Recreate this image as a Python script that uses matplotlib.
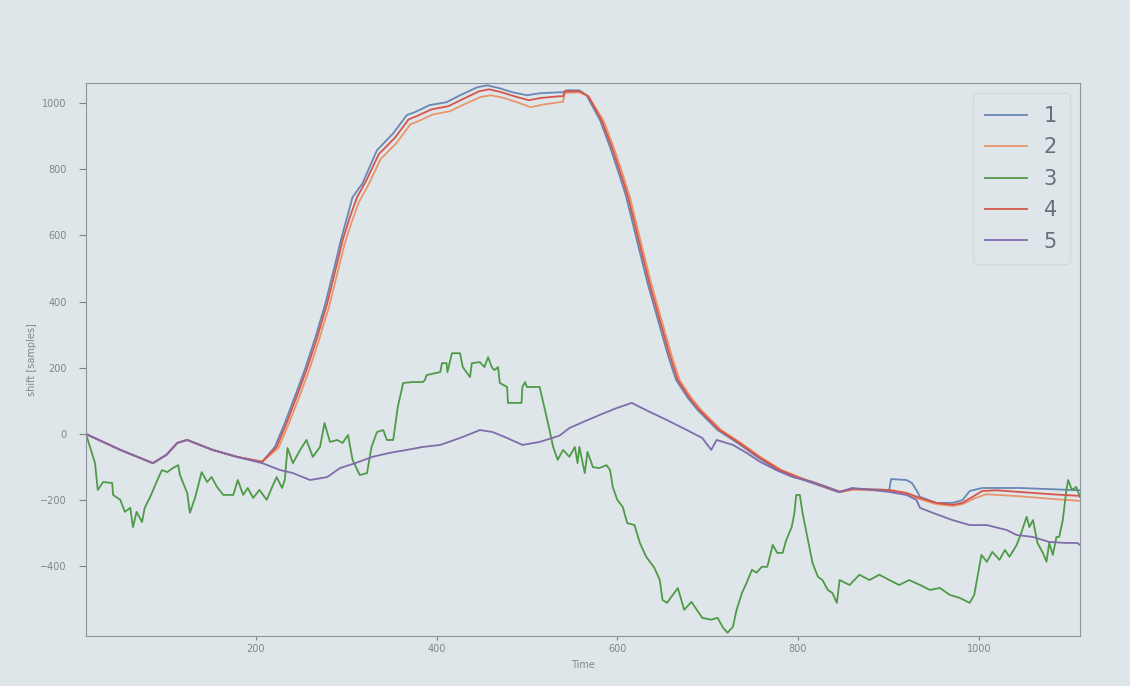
import matplotlib
matplotlib.use("Agg")
import matplotlib.pyplot as plt

# (time, shift) pairs
s1 = [(12, 0), (50, -48), (86, -88), (101, -63), (113, -27), (124, -18), (152, -48), (179, -69),
      (207, -84), (221, -39), (232, 33), (243, 112), (254, 193), (266, 293), (277, 395), (288, 516),
      (294, 585), (301, 655), (307, 715), (318, 757), (334, 857), (352, 908), (367, 963), (376, 972),
      (392, 993), (411, 1002), (426, 1023), (445, 1047), (456, 1053), (470, 1044), (484, 1032),
      (500, 1023), (514, 1029), (536, 1032), (540, 1032), (544, 1038), (558, 1038), (566, 1023),
      (573, 987), (581, 947), (592, 866), (603, 776), (610, 715), (623, 570), (634, 450), (645, 344),
      (656, 238), (665, 163), (678, 109), (689, 72), (711, 12), (733, -27), (756, -72), (778, -109),
      (800, -133), (822, -154), (844, -175), (860, -166), (901, -169), (903, -136), (920, -139),
      (926, -148), (931, -169), (935, -190), (953, -208), (971, -208), (982, -200), (990, -172),
      (1004, -163), (1045, -163), (1112, -170)]

s2 = [(12, 0), (50, -48), (86, -88), (101, -63), (113, -27), (124, -18), (152, -48), (179, -69),
      (207, -84), (225, -42), (236, 28), (247, 105), (258, 185), (270, 285), (281, 385), (292, 505),
      (298, 572), (306, 640), (314, 700), (325, 755), (338, 830), (356, 880), (371, 935), (380, 945),
      (396, 965), (415, 975), (430, 995), (449, 1018), (460, 1023), (474, 1015), (488, 1003),
      (504, 987), (518, 995), (536, 1002), (540, 1004), (542, 1030), (558, 1032), (568, 1020),
      (576, 985), (585, 945), (596, 866), (607, 776), (614, 715), (627, 570), (638, 450), (649, 344),
      (660, 238), (669, 163), (682, 109), (693, 72), (715, 12), (737, -27), (760, -72), (782, -109),
      (804, -133), (826, -154), (848, -175), (862, -168), (901, -172), (920, -182), (935, -197),
      (953, -212), (971, -217), (982, -212), (995, -195), (1008, -182), (1045, -188), (1081, -196),
      (1112, -202)]

s3 = [(12, 0), (22, -88), (25, -169), (31, -145), (41, -148), (42, -184), (50, -199), (55, -235),
      (61, -223), (64, -281), (68, -235), (74, -266), (77, -223), (83, -190), (91, -139), (96, -109),
      (102, -115), (108, -103), (114, -94), (116, -124), (124, -178), (127, -238), (133, -190),
      (140, -115), (146, -145), (151, -130), (157, -160), (164, -184), (175, -184), (180, -139),
      (186, -184), (191, -163), (197, -193), (204, -169), (212, -199), (218, -160), (223, -130),
      (229, -163), (232, -139), (235, -42), (241, -88), (249, -48), (256, -18), (263, -69), (271, -39),
      (276, 33), (282, -24), (290, -18), (296, -27), (302, -3), (307, -78), (315, -124), (323, -118),
      (328, -39), (334, 6), (341, 12), (345, -18), (352, -18), (357, 81), (363, 154), (374, 157),
      (385, 157), (387, 163), (389, 178), (404, 187), (406, 214), (411, 214), (412, 187), (417, 244),
      (426, 244), (429, 202), (433, 187), (437, 172), (439, 214), (448, 217), (453, 202), (457, 232),
      (461, 202), (464, 193), (468, 202), (470, 154), (478, 142), (479, 94), (494, 94), (495, 142),
      (498, 157), (500, 142), (514, 142), (520, 72), (525, 12), (529, -39), (534, -78), (540, -48),
      (547, -69), (553, -39), (556, -88), (558, -39), (564, -118), (567, -54), (573, -100),
      (580, -103), (588, -94), (592, -109), (595, -160), (600, -199), (606, -220), (611, -269),
      (619, -275), (625, -329), (632, -371), (641, -404), (647, -441), (650, -501), (655, -510),
      (667, -465), (674, -531), (682, -507), (688, -531), (694, -555), (704, -561), (711, -555),
      (717, -585), (722, -600), (728, -582), (732, -531), (738, -480), (743, -450), (749, -410),
      (754, -419), (760, -401), (766, -401), (772, -335), (777, -359), (783, -359), (787, -320),
      (793, -281), (796, -238), (798, -184), (802, -184), (805, -238), (811, -320), (816, -389),
      (822, -431), (827, -441), (833, -471), (838, -480), (843, -510), (846, -441), (857, -456),
      (868, -425), (879, -441), (890, -425), (901, -441), (912, -456), (923, -441), (935, -456),
      (946, -471), (957, -465), (968, -486), (979, -495), (990, -510), (995, -486), (998, -441),
      (1003, -365), (1009, -386), (1015, -356), (1023, -380), (1029, -350), (1034, -371),
      (1042, -335), (1047, -299), (1053, -250), (1056, -281), (1060, -260), (1065, -329),
      (1071, -359), (1075, -386), (1078, -329), (1082, -365), (1086, -311), (1089, -311),
      (1093, -260), (1097, -169), (1099, -139), (1103, -169), (1108, -160), (1112, -190)]

s4 = [(12, 0), (50, -48), (86, -88), (101, -63), (113, -27), (124, -18), (152, -48), (179, -69),
      (207, -84), (223, -39), (234, 33), (245, 112), (256, 193), (268, 293), (279, 395), (290, 516),
      (296, 585), (304, 655), (312, 715), (323, 770), (336, 845), (354, 895), (369, 950), (378, 960),
      (394, 980), (413, 990), (428, 1010), (447, 1035), (458, 1041), (472, 1032), (486, 1020),
      (502, 1008), (516, 1015), (536, 1020), (540, 1020), (542, 1035), (544, 1035), (558, 1035),
      (568, 1020), (575, 985), (583, 945), (594, 866), (605, 776), (612, 715), (625, 570), (636, 450),
      (647, 344), (658, 238), (667, 163), (680, 109), (691, 72), (713, 12), (735, -27), (758, -72),
      (780, -109), (802, -133), (824, -154), (846, -175), (860, -166), (901, -169), (920, -178),
      (935, -193), (953, -208), (971, -214), (982, -208), (993, -190), (1004, -172), (1020, -170),
      (1045, -175), (1081, -182), (1112, -187)]

s5 = [(12, 0), (50, -48), (86, -88), (101, -63), (113, -27), (124, -18), (152, -48), (179, -69),
      (207, -88), (227, -109), (241, -118), (260, -139), (279, -130), (293, -103), (310, -88),
      (329, -69), (348, -57), (367, -48), (385, -39), (404, -33), (426, -12), (448, 12), (462, 6),
      (478, -12), (495, -33), (514, -24), (528, -12), (536, -5), (547, 18), (562, 36), (580, 57),
      (599, 78), (616, 94), (632, 72), (655, 42), (677, 12), (694, -12), (704, -48), (710, -18),
      (728, -33), (743, -57), (758, -84), (776, -109), (794, -130), (816, -145), (832, -160),
      (846, -175), (860, -163), (883, -169), (901, -175), (920, -184), (931, -199), (935, -223),
      (949, -238), (971, -260), (990, -275), (1009, -275), (1031, -290), (1042, -305), (1060, -311),
      (1078, -326), (1097, -329), (1109, -329), (1112, -335)]

labels = ['1', '2', '3', '4', '5']
colors = ['#6a87b3', '#e8956c', '#4f9a48', '#d5554c', '#7f6cab']

bg = '#dfe6e9'
fig = plt.figure(figsize=(11.3, 6.86), dpi=100, facecolor=bg)
ax = fig.add_axes([0.0761, 0.0729, 0.8796, 0.8061], facecolor=bg)

for s, lab, c in zip([s1, s2, s3, s4, s5], labels, colors):
    t = [p[0] for p in s]
    v = [p[1] for p in s]
    ax.plot(t, v, color=c, lw=1.3, label=lab)

ax.set_xlim(12, 1112)
ax.set_ylim(-610, 1060)
ax.set_xticks([200, 400, 600, 800, 1000])
ax.set_yticks([-400, -200, 0, 200, 400, 600, 800, 1000])
ax.tick_params(labelsize=7, colors='#7d878b')
ax.tick_params(axis='y', length=5, pad=9)
ax.tick_params(axis='x', length=3, pad=3)
for sp in ax.spines.values():
    sp.set_color('#8d979b')
ax.set_xlabel('Time', fontsize=7, color='#7d878b', labelpad=4)
ax.set_ylabel('shift [samples]', fontsize=7, color='#7d878b', labelpad=2)

leg = ax.legend(loc='upper right', fontsize=15, handlelength=2.0, labelspacing=0.55,
                borderpad=0.6, framealpha=0.5, facecolor=bg, edgecolor='#c6cfd3')
for txt in leg.get_texts():
    txt.set_color('#66707a')

plt.savefig('out.png', dpi=100, facecolor=bg)
